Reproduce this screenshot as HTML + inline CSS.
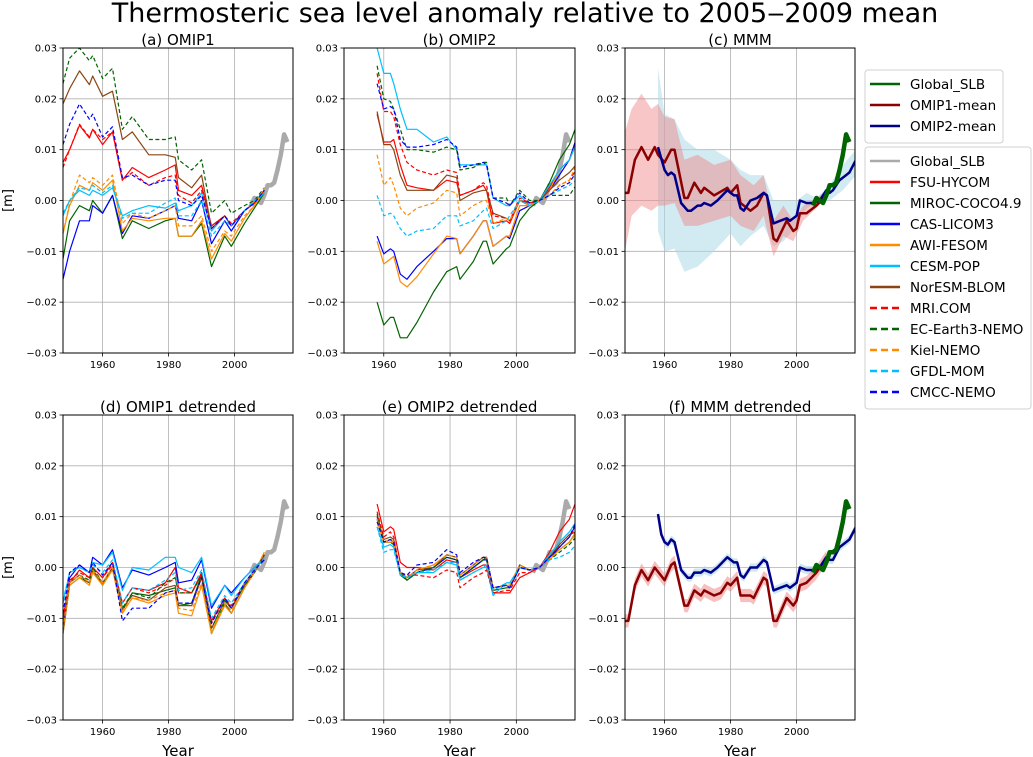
<!DOCTYPE html>
<html><head><meta charset="utf-8"><style>
body{margin:0;background:#fff;}
svg{display:block;font-family:"DejaVu Sans","Liberation Sans",sans-serif;}
</style></head><body>
<svg id="fig" width="1033" height="757" viewBox="0 0 1033 757" xmlns="http://www.w3.org/2000/svg">
<text x="525" y="22" font-size="27" text-anchor="middle">Thermosteric sea level anomaly relative to 2005‒2009 mean</text>
<g id="plots"></g>
<g id="legend1"></g>
<g id="legend2"></g>
</svg>
<script>
// ---- data (values in mm; 1 mm = 0.001 m) ----
const models = ["FSU-HYCOM","MIROC-COCO4.9","CAS-LICOM3","AWI-FESOM","CESM-POP","NorESM-BLOM","MRI.COM","EC-Earth3-NEMO","Kiel-NEMO","GFDL-MOM","CMCC-NEMO"];
const years1 = [1948,1950,1953,1956,1957,1960,1963,1966,1969,1974,1979,1982,1983,1987,1990,1993,1997,1999,2003,2006,2009];
const years2 = [1958,1960,1962,1963,1965,1967,1970,1975,1979,1982,1983,1987,1990,1991,1993,1997,1998,2001,2004,2007,2010,2013,2016,2018];
const omip1 = [
[7.5,10,14.8,12.3,14,11,13.5,4,6.5,4.5,6,7,2,1,3,-5,-3,-5,-2,-0.5,2],
[-11.5,-4,-1,-2,0,-2.5,1,-7.5,-4,-5.5,-4,-3.5,-7,-7,-4.5,-13,-7,-9,-4.5,-1.5,1.5],
[-15.5,-10,-4,-4,-1,-2.5,1,-6.5,-3,-3.5,-2,-1,-3.5,-4,0,-8.5,-4,-6,-2,-0.5,1.5],
[-6.5,-1,3,2,3.5,2,4,-6,-3.5,-4,-3.5,-3.5,-7,-7,-4,-11.5,-6.5,-8,-3.5,-1,2],
[-3,0,2,1,2,1,2.5,-3,-2,-1,-1.5,-0.5,-2,-1,1.5,-6,-3,-5,-2,-0.5,1.5],
[19,22,25.5,22.8,24.5,20.5,21.5,12,13.5,9,9,8.5,4.5,2.5,5,-5.5,-3,-5,-2,-0.5,2],
[6.5,10,15,12.5,14,12,13.5,4,5.5,3,4.5,5,1,-0.5,2,-5.5,-3,-4.5,-2,-0.5,2],
[23,28,30,27.5,28.5,24,26,14,16.5,12,12,12.5,8,6,8,-2.5,0,-2.5,-1,0,2.5],
[-6.5,-0.5,5,3.5,4.5,3,5,-4.5,-2.5,-3.5,-2,-1,-5,-5,-3,-10,-6,-7,-3,-1,2.5],
[-2.5,0,2.5,2,3,1.5,3,-3.5,-2.5,-2.5,-0.5,0.5,-3,-3,0,-7,-4,-5,-2,0,1.5],
[11,15,19,16,17,12.5,14.5,4.5,5,3,4,4,0,-1,1,-5.5,-3,-5,-2,-0.5,2]];
const omip2 = [
[17,11.5,11.5,12,7,3,2.5,2,4,3.5,1,2,3,2,-4.5,-4,-4.5,0,-1,0,2.5,6,8,12],
[-20,-24.5,-23,-23,-27,-27,-24,-18,-14,-13,-15.5,-12,-8,-8,-12.5,-9.5,-9,-4,-1.5,0,3.5,8,11,14.5],
[-7,-10.5,-9.5,-10,-14.5,-15.5,-13,-10,-7.5,-7.5,-10.5,-7,-4,-4,-9,-7,-7.5,-2,-1,0,2,5,8,12],
[-8,-12.5,-11.5,-11,-16,-17,-15,-10.5,-7,-7.5,-10.5,-7,-4,-4,-9,-7,-7,-1,-1,0,2,6,8,11],
[30,25,25,23,18,14,14,11.5,12.5,10,7,7,7,7,0.5,-1,-1,1,-1,0,3,6,8,11],
[17.5,11,11,10,5,2,2,2,5,4.5,0,1.5,2,2,-2.5,-3.5,-4,0,-0.5,0,2,4,5.5,7],
[25,17.5,17.5,16.5,11,7.5,6,5,6,5.5,1,2,3.5,3,-3,-3.5,-4,0.5,-0.5,0,1,3,4,6],
[26.5,20,19.5,18,14,10,10,9.5,10.5,10,6,6.5,7.5,7.5,0.5,0.5,-1,2,0,0,1,1,1,3],
[9,3,4.5,3,-1.5,-3,-1.5,-0.5,2,1.5,-3,-1,0,0,-4.5,-3.5,-4,0,-1,0,1,3,4,7],
[1,-3,-2.5,-3,-5.5,-7,-6,-5.5,-3,-3,-5,-4,-2,-1.5,-5.5,-4,-3,0,-1,0,1,2,3,4],
[23,18,18.5,18,12,10.5,10.5,11,12,10.5,6.5,7,7.5,7,0.5,-0.5,-1,1.5,-0.5,0,1,2.5,3.5,5.5]];
const omip1Det = [
[-10,-3,-0.5,-2,0,-2,1,-7,-4,-4.5,-3,0,-4,-5,-1,-10.5,-6,-8,-3.5,-1,2.5],
[-13,-3.5,-2,-3,-0.5,-3.5,0,-8.5,-5,-5.5,-4.5,-4,-7.5,-7,-1.5,-13,-7,-9,-4,-1,2.5],
[-12,-2,0.5,-1,2,0.5,3.5,-4,-0.5,-1.5,0,1,-3,-2.5,1.5,-8,-3.5,-5,-2,0,1.5],
[-13,-3.5,-2,-3.5,-1,-3.5,-0.5,-9,-6,-7,-5.5,-5,-9,-9.5,-3.5,-13,-7.5,-9,-4,-1,3],
[-7,-1,0,-1,1,0.5,3,-4.5,0,-0.5,2,2,0,-1,2,-7.5,-3.5,-5.5,-2,0,2],
[-12.5,-3,-1.5,-3,-0.5,-3,0,-8,-5.5,-6.5,-4,-3.5,-7.5,-7.5,-2,-12,-6.5,-8,-3.5,-1,2.5],
[-10,-2.5,-1,-2,0,-2,0.5,-7,-4,-5,-3.5,-2,-5,-5,-1.5,-11,-6,-7.5,-3,-1,2.5],
[-12,-3,-1.5,-2.5,0,-3,0,-8,-5,-6,-3,-2,-5,-5,-1.5,-12,-6.5,-8,-3.5,-1,2.5],
[-12,-3,-1.5,-3,-0.5,-3,0,-8.5,-6,-6.5,-5,-4.5,-8,-8.5,-3,-12.5,-7,-8.5,-4,-1,3],
[-6.5,-1,0,-1,0.5,-1,1.5,-7,-4,-4.5,-2.5,-1,-4.5,-4,-0.5,-10,-5.5,-7,-3,-0.5,2],
[-9,-1,0.5,-1,1,-1.5,1,-10.5,-8,-8,-5,-4.5,-7,-7,-2,-11,-6,-8,-3,-0.5,1.5]];
const omip2Det = [
[12.5,7,8,7.5,1,0,0,-0.5,1.5,1,-2,-0.5,0.5,0.5,-5,-5,-5,-2,-1,0,3,7,9.5,13],
[10,5,5,4.5,-1.5,-2.5,-1,0,2,1.5,-2,0,1.5,2,-4.5,-4,-4,0,-0.5,0,2,3.5,5,7],
[9.5,5,5.5,5,-1,-2,-1,0,2,1.5,-2,0,1.5,1.5,-4,-3.5,-4,0,-0.5,0,2,4,6,8.5],
[9,5,5,5,-1,-2,-0.5,0.5,2.5,2,-1.5,0.5,2,2,-4,-3.5,-3.5,0.5,-0.5,0,1.5,3.5,5,7],
[8,4,4.5,4,-1.5,-2,-1,-1,1,0.5,-2.5,-1,0,0,-5.5,-3,-3,0,-0.5,0,2.5,5,7,9],
[10,5.5,6,5.5,-1,-2,-0.5,0,2.5,2,-1.5,0.5,2,2,-4,-3.5,-4,0.5,-0.5,0,2,4.5,6.5,7],
[11,6,7,6,-1,-1.5,-1.5,-2,-0.5,-1,-4,-2,-1,-0.5,-5,-4.5,-4.5,-1,-1,0,2,4,6,8],
[10.5,5,5.5,5,-1,-2.5,-1,0,2,1.5,-2,0,1.5,1.5,-4,-3.5,-4,0.5,-0.5,0,1.5,3,4.5,6],
[9.5,5,5.5,5,-1,-2,-0.5,0.5,2.5,2,-1.5,0.5,2,2,-4,-3.5,-3.5,0.5,-0.5,0,1.5,3.5,5,6.5],
[8,3,3.5,3.5,-1.5,-2,-1,-0.5,1,1,-2.5,-1,0,0.5,-4.5,-3,-3,0,-0.5,0,1.5,2,3,4.5],
[9,5,5.5,5,-1,-1.5,0.5,1,3.5,2.5,-1,1,2,2,-4,-3.5,-4,0,-0.5,0,2,4,6,9]];
const slbYears = [2005,2006,2007,2008,2009,2010,2011,2012,2013,2014,2015,2016];
const slbValues = [-1,0.5,0,-0.5,1,3,3,3.5,6,9,13,11.5];
const mean1Years = [1948,1949,1951,1953,1955,1957,1958,1960,1962,1963,1966,1967,1969,1971,1972,1975,1979,1980,1982,1983,1986,1988,1990,1991,1993,1994,1997,1999,2000,2001,2003,2006,2009];
const mean1Values = [1.5,1.5,8,10.5,8,10.5,9,7.5,10,10,0.5,0.5,3.5,1.5,2.5,1,2.5,1.5,3,-0.5,-2,-1,1.5,1,-7.5,-8,-4,-6,-5.5,-2.5,-2.5,-1,1];
const band1Years = [1948,1950,1953,1956,1958,1960,1963,1966,1970,1975,1980,1983,1987,1990,1993,1996,1999,2002,2006,2009];
const band1Lo = [-10,-3,-1,-2,-1,-1,-0.5,-5,-5,-4,-3,-5,-6,-3,-11,-7,-8,-4,-1.5,0.5];
const band1Hi = [13.5,18,21,18,19,16.5,16,8,9,7,8,5,3,5,-4,-1,-4,-1,0.5,2];
const mean2Years = [1958,1960,1961,1962,1963,1965,1967,1968,1970,1971,1972,1974,1976,1979,1981,1982,1983,1984,1986,1988,1990,1991,1993,1995,1997,1998,2000,2001,2003,2005,2007,2009,2010,2011,2013,2015,2016,2018];
const mean2Values = [10.5,6,5,5.5,5,-0.5,-2,-2,-1,-1,-0.5,-1,0,2,1,1,-1.5,-2,0,0.5,1.5,1,-4.5,-4,-3.5,-4,-3,0,-0.5,-0.5,0,2,1.5,2,4,5,5.5,8];
const band2Years = [1958,1960,1963,1966,1970,1975,1980,1983,1986,1990,1993,1996,2000,2003,2006,2010,2014,2018];
const band2Lo = [-6,-10,-9.5,-14,-13,-10,-6.5,-9,-7,-5,-9,-8,-5,-1.5,-0.5,0,2,5];
const band2Hi = [26,17,16,12,10,10,8,6,5,5,0,0,0,1.5,0.5,3,7,10];
const mean1DetYears = [1948,1949,1951,1953,1955,1957,1960,1962,1963,1966,1967,1969,1971,1972,1975,1977,1979,1980,1982,1983,1986,1987,1990,1991,1993,1994,1997,1999,2000,2001,2003,2006,2009];
const mean1DetValues = [-10.5,-10.5,-3.5,-0.5,-2.5,0,-2.5,0.5,1,-7.5,-7.5,-4.5,-5.5,-4.5,-5.5,-5,-3,-3.5,-2,-5.5,-5.5,-6,-2,-2.5,-10.5,-10.5,-6,-7.5,-6.5,-3.5,-3,-1,2];
const mean2DetYears = [1958,1959,1960,1961,1962,1963,1965,1967,1968,1969,1971,1972,1974,1976,1979,1981,1982,1983,1984,1986,1988,1990,1991,1993,1995,1997,1998,2000,2001,2003,2005,2007,2009,2010,2011,2013,2015,2016,2018];
const mean2DetValues = [10.5,6.5,5,4.5,5.5,5,-0.5,-2,-2,-1,-1,-0.5,-1,0,2,1,1,-1.5,-2,0,0,1.5,1,-4.5,-4,-3.5,-4,-3,0,-0.5,-0.5,0,2,1.5,1.5,4,5,5.5,8];
const yTickValues = [30,20,10,0,-10,-20,-30];
const yTickLabels = ["0.03","0.02","0.01","0.00","−0.01","−0.02","−0.03"];
const xTickValues = [1960,1980,2000];

// ---- styles ----
const colors = ["#ff0000","#006400","#0000ff","#ff8c00","#00bfff","#8b4513","#ff0000","#006400","#ff8c00","#00bfff","#0000ff"];
const NS = "http://www.w3.org/2000/svg";
const XMIN = 1948, XMAX = 2017.7, YMAX = 30, YMIN = -30;
const panelDefs = [
 {k:"a", x0:63, x1:293, y0:48, y1:353, title:"(a) OMIP1"},
 {k:"b", x0:344, x1:575, y0:48, y1:353, title:"(b) OMIP2"},
 {k:"c", x0:625, x1:855, y0:48, y1:353, title:"(c) MMM"},
 {k:"d", x0:63, x1:293, y0:415, y1:720, title:"(d) OMIP1 detrended"},
 {k:"e", x0:344, x1:575, y0:415, y1:720, title:"(e) OMIP2 detrended"},
 {k:"f", x0:625, x1:855, y0:415, y1:720, title:"(f) MMM detrended"}];
function mk(tag, attrs, parent){const e=document.createElementNS(NS,tag);for(const k in attrs)e.setAttribute(k,attrs[k]);if(parent)parent.appendChild(e);return e;}
function sx(p,yr){return p.x0+(yr-XMIN)/(XMAX-XMIN)*(p.x1-p.x0);}
function sy(p,v){return p.y0+(YMAX-v)/(YMAX-YMIN)*(p.y1-p.y0);}
function pts(p,xs,vs){return xs.map((x,i)=>sx(p,x).toFixed(1)+","+sy(p,vs[i]).toFixed(1)).join(" ");}
const plots=document.getElementById("plots");

function line(g,p,xs,vs,color,w,dash,name){
  const el=mk("polyline",{points:pts(p,xs,vs),fill:"none",stroke:color,"stroke-width":w,"stroke-linejoin":"round"},g);
  if(dash) el.setAttribute("stroke-dasharray",dash);
  
  
}
function band(g,p,xs,lo,hi,color,name){
  const up=xs.map((x,i)=>sx(p,x).toFixed(1)+","+sy(p,hi[i]).toFixed(1));
  const dn=xs.map((x,i)=>sx(p,x).toFixed(1)+","+sy(p,lo[i]).toFixed(1)).reverse();
  const el=mk("polygon",{points:up.concat(dn).join(" "),fill:color,stroke:"none"},g);
  
  
}

panelDefs.forEach((p,pi)=>{
  const g=mk("g",{},plots);
  
  
  const cp=mk("clipPath",{id:"clip"+p.k},g);
  mk("rect",{x:p.x0,y:p.y0,width:p.x1-p.x0,height:p.y1-p.y0},cp);
  yTickValues.forEach((v,i)=>{
    const y=sy(p,v);
    const gl=mk("line",{x1:p.x0,x2:p.x1,y1:y,y2:y,stroke:"#b0b0b0","stroke-width":0.8},g);
    
    
    mk("line",{x1:p.x0-3.5,x2:p.x0,y1:y,y2:y,stroke:"#000","stroke-width":0.8},g);
    const t=mk("text",{x:p.x0-6,y:y+3.5,"font-size":10,"text-anchor":"end"},g);
    t.textContent=yTickLabels[i];
    
    
  });
  xTickValues.forEach(v=>{
    const x=sx(p,v);
    const gl=mk("line",{x1:x,x2:x,y1:p.y0,y2:p.y1,stroke:"#b0b0b0","stroke-width":0.8},g);
    
    
    mk("line",{x1:x,x2:x,y1:p.y1,y2:p.y1+3.5,stroke:"#000","stroke-width":0.8},g);
    const t=mk("text",{x:x,y:p.y1+15,"font-size":10,"text-anchor":"middle"},g);
    t.textContent=String(v);
    
    
  });
  const dg=mk("g",{"clip-path":"url(#clip"+p.k+")"},g);
  
  
  if(p.k==="a"||p.k==="b"||p.k==="d"||p.k==="e"){
    const isA=(p.k==="a"||p.k==="d");
    const yrs=isA?years1:years2;
    const src={a:omip1,b:omip2,d:omip1Det,e:omip2Det}[p.k];
    line(dg,p,slbYears,slbValues,"#aaaaaa",4.5,null,"global-slb-line");
    src.forEach((vals,mi)=>{
      line(dg,p,yrs,vals,colors[mi],1.2,mi>=6?"4,2.5":null,"line-"+models[mi].toLowerCase().replace(/[^a-z0-9]+/g,"-"));
    });
  } else if(p.k==="c"){
    band(dg,p,band2Years,band2Lo,band2Hi,"rgba(173,216,230,0.55)","omip2-spread-band");
    band(dg,p,band1Years,band1Lo,band1Hi,"rgba(240,128,128,0.45)","omip1-spread-band");
    line(dg,p,mean1Years,mean1Values,"#8b0000",2.5,null,"omip1-mean-line");
    line(dg,p,mean2Years,mean2Values,"#00008b",2.5,null,"omip2-mean-line");
    line(dg,p,slbYears,slbValues,"#006400",4.5,null,"global-slb-line");
  } else {
    const lo1=mean1DetValues.map(v=>v-1.3), hi1=mean1DetValues.map(v=>v+1.3);
    const lo2=mean2DetValues.map(v=>v-0.8), hi2=mean2DetValues.map(v=>v+0.8);
    band(dg,p,mean2DetYears,lo2,hi2,"rgba(173,216,230,0.6)","omip2-detrended-band");
    band(dg,p,mean1DetYears,lo1,hi1,"rgba(240,128,128,0.5)","omip1-detrended-band");
    line(dg,p,mean1DetYears,mean1DetValues,"#8b0000",2.5,null,"omip1-mean-detrended-line");
    line(dg,p,mean2DetYears,mean2DetValues,"#00008b",2.5,null,"omip2-mean-detrended-line");
    line(dg,p,slbYears,slbValues,"#006400",4.5,null,"global-slb-line");
  }
  const fr=mk("rect",{x:p.x0,y:p.y0,width:p.x1-p.x0,height:p.y1-p.y0,fill:"none",stroke:"#000","stroke-width":1},g);
  
  
  const tt=mk("text",{x:(p.x0+p.x1)/2,y:p.y0-3,"font-size":15,"text-anchor":"middle"},g);
  tt.textContent=p.title;
  
  
  if(p.k==="a"||p.k==="d"){
    const yl=mk("text",{x:12,y:(p.y0+p.y1)/2,"font-size":13,"text-anchor":"middle",transform:"rotate(-90 12 "+(p.y0+p.y1)/2+")"},g);
    yl.textContent="[m]";
    
    
  }
  if(pi>=3){
    const xl=mk("text",{x:(p.x0+p.x1)/2,y:756,"font-size":15,"text-anchor":"middle"},g);
    xl.textContent="Year";
    
    
  }
});

function legend(gid,x,y,w,entries){
  const g=document.getElementById(gid);
  mk("rect",{x:x,y:y,width:w,height:entries.length*21+10,rx:3,fill:"#fff",stroke:"#d0d0d0","stroke-width":1},g);
  entries.forEach((e,i)=>{
    const cy=y+14+i*21;
    const l=mk("line",{x1:x+5,x2:x+35,y1:cy,y2:cy,stroke:e[1],"stroke-width":e[2]},g);
    if(e[3]) l.setAttribute("stroke-dasharray","7,4");
    const t=mk("text",{x:x+45,y:cy+5,"font-size":13.5},g);
    t.textContent=e[0];
    
    
  });
}
legend("legend1",865,70,138,[["Global_SLB","#006400",2.5],["OMIP1-mean","#8b0000",2.5],["OMIP2-mean","#00008b",2.5]]);
const ent2=[["Global_SLB","#aaaaaa",2.5]];
models.forEach((m,i)=>ent2.push([m,colors[i],2.5,i>=6]));
legend("legend2",865,147,166,ent2);
</script>
</body></html>
